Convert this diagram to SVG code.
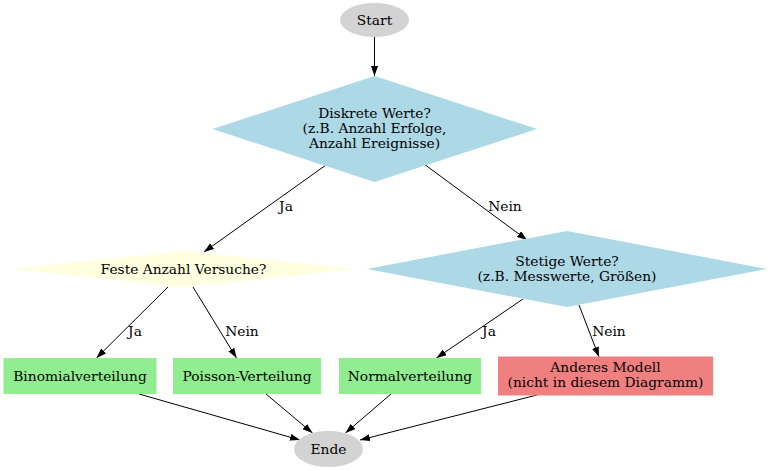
<svg xmlns="http://www.w3.org/2000/svg" width="768" height="471" viewBox="0 0 768 471">
<style>
text{font-family:"DejaVu Serif","Liberation Serif",serif;font-size:13.8px;fill:#000;text-anchor:middle}
.e{stroke:#000;stroke-width:1;fill:none}
.gray{fill:#d3d3d3}
.blue{fill:#add8e6}
.yel{fill:#ffffe0}
.green{fill:#90ee90}
.red{fill:#f08080}
</style>
<defs>
<marker id="a" markerUnits="userSpaceOnUse" markerWidth="10" markerHeight="8" refX="10" refY="3.5" orient="auto">
<path d="M0,0 L10,3.5 L0,7 z" fill="#000"/>
</marker>
</defs>
<rect width="768" height="471" fill="#fff"/>
<g id="edges">
<line class="e" x1="374.5" y1="36" x2="374.5" y2="76" marker-end="url(#a)"/>
<line class="e" x1="326" y1="165" x2="204" y2="252" marker-end="url(#a)"/>
<text x="286" y="211">Ja</text>
<line class="e" x1="424" y1="164" x2="527" y2="240" marker-end="url(#a)"/>
<text x="505" y="211">Nein</text>
<line class="e" x1="168" y1="287" x2="96.5" y2="358" marker-end="url(#a)"/>
<text x="135" y="336">Ja</text>
<line class="e" x1="193" y1="287" x2="236.5" y2="358" marker-end="url(#a)"/>
<text x="242" y="336">Nein</text>
<line class="e" x1="523" y1="299" x2="436.5" y2="358" marker-end="url(#a)"/>
<text x="489" y="336">Ja</text>
<line class="e" x1="579" y1="305" x2="599" y2="357" marker-end="url(#a)"/>
<text x="609" y="336">Nein</text>
<line class="e" x1="139" y1="394" x2="300" y2="440" marker-end="url(#a)"/>
<line class="e" x1="266" y1="394" x2="312.5" y2="433" marker-end="url(#a)"/>
<line class="e" x1="391" y1="394" x2="345.5" y2="433" marker-end="url(#a)"/>
<line class="e" x1="537" y1="395" x2="360" y2="440" marker-end="url(#a)"/>
</g>
<g id="start">
<ellipse class="gray" cx="374.5" cy="20" rx="34.5" ry="17"/>
<text x="374.5" y="24.5">Start</text>
</g>
<g id="diskret">
<polygon class="blue" points="374.5,76 537,129 374.5,182 212.5,129"/>
<text x="374.5" y="117.5">Diskrete Werte?</text>
<text x="374.5" y="132.5">(z.B. Anzahl Erfolge,</text>
<text x="374.5" y="147.5">Anzahl Ereignisse)</text>
</g>
<g id="feste">
<polygon class="yel" points="183.5,251 355,269 183.5,287 12,269"/>
<text x="183.5" y="273.5">Feste Anzahl Versuche?</text>
</g>
<g id="stetig">
<polygon class="blue" points="567,231 767,269 567,307 367,269"/>
<text x="567" y="265.5">Stetige Werte?</text>
<text x="567" y="280.5">(z.B. Messwerte, Größen)</text>
</g>
<g id="binomial">
<rect class="green" x="3.5" y="358" width="153" height="36"/>
<text x="80" y="380.5">Binomialverteilung</text>
</g>
<g id="poisson">
<rect class="green" x="173" y="358" width="148" height="36"/>
<text x="247" y="380.5">Poisson-Verteilung</text>
</g>
<g id="normal">
<rect class="green" x="339" y="358" width="142" height="36"/>
<text x="410" y="380.5">Normalverteilung</text>
</g>
<g id="anderes">
<rect class="red" x="498" y="356.5" width="215" height="39"/>
<text x="605.5" y="372">Anderes Modell</text>
<text x="605.5" y="387">(nicht in diesem Diagramm)</text>
</g>
<g id="ende">
<ellipse class="gray" cx="328.5" cy="449" rx="34.5" ry="18"/>
<text x="328.5" y="453.5">Ende</text>
</g>
</svg>
